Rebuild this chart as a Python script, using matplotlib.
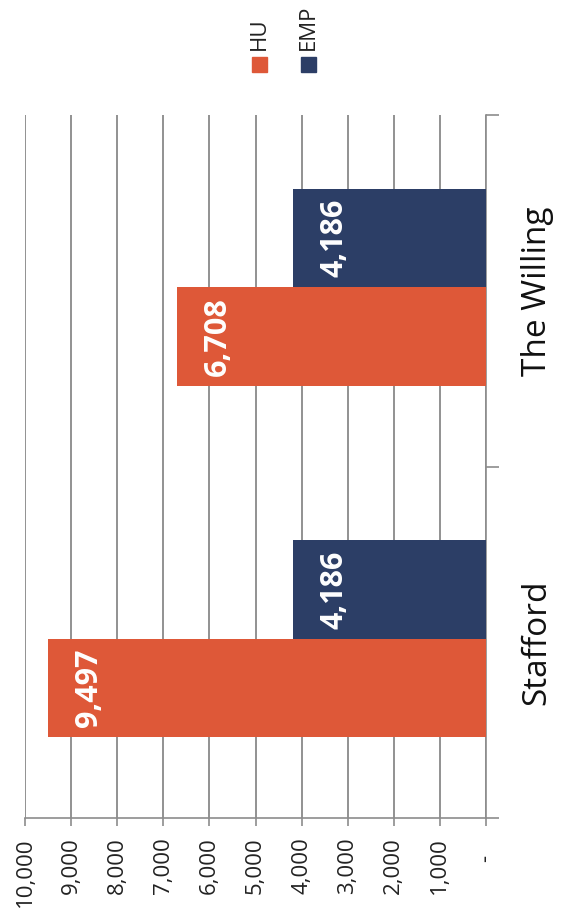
import matplotlib.pyplot as plt
import numpy as np
from matplotlib.ticker import FuncFormatter, MultipleLocator
from matplotlib.patches import Rectangle

plt.rcParams['font.family'] = ['Open Sans', 'DejaVu Sans']

# data
categories = ['Stafford', 'The Willing']
series = ['HU', 'EMP']
hu = [9497, 6708]
emp = [4186, 4186]
colors = {'HU': '#DE5838', 'EMP': '#2C3E66'}

W, H = 571, 922
fig = plt.figure(figsize=(W / 100, H / 100), dpi=100)
ax = fig.add_axes([25 / W, 1 - 818 / H, (486 - 25) / W, (818 - 115) / H])

pos = np.arange(len(categories))
bh = 0.28
shift = 0.01  # groups sit a touch above the category centre
ax.barh(pos - bh / 2 + shift, hu, height=bh, color=colors['HU'], zorder=3)
ax.barh(pos + bh / 2 + shift, emp, height=bh, color=colors['EMP'], zorder=3)

# value labels, rotated like the rest of the chart
for vals, off in ((hu, -bh / 2), (emp, bh / 2)):
    for p, v in zip(pos, vals):
        ax.annotate(f'{v:,}', xy=(v, p + off + shift), xytext=(26, 0),
                    textcoords='offset pixels', rotation=90,
                    ha='left', va='center', color='white',
                    fontsize=22, fontweight='bold', zorder=4)

ax.set_xlim(10000, 0)
ax.set_ylim(-0.5, len(categories) - 0.5)

ax.xaxis.set_major_locator(MultipleLocator(1000))
ax.xaxis.set_major_formatter(FuncFormatter(lambda x, _: '-   ' if x == 0 else f'{x:,.0f}'))
ax.tick_params(axis='x', direction='out', length=6, width=1.2, color='#8c8c8c',
               pad=8, labelsize=16, labelrotation=90, labelcolor='#222222')
ax.grid(axis='x', color='#7f7f7f', linewidth=1.2, zorder=0)

# category axis on the right
ax.yaxis.tick_right()
ax.set_yticks(np.arange(-0.5, len(categories), 1.0))
ax.set_yticklabels([])
ax.set_yticks(pos, minor=True)
ax.set_yticklabels(categories, minor=True, rotation=90, va='center')
ax.tick_params(axis='y', which='major', direction='out', length=9, width=1.2,
               color='#8c8c8c', right=True, left=False)
ax.tick_params(axis='y', which='minor', length=0, pad=25, labelsize=24,
               labelcolor='#111111', right=True, left=False)

for s in ('top', 'left'):
    ax.spines[s].set_visible(False)
for s in ('right', 'bottom'):
    ax.spines[s].set_color('#8c8c8c')
    ax.spines[s].set_linewidth(1.2)

# legend, drawn rotated
for name, cx in (('HU', 259.5), ('EMP', 308)):
    fig.patches.append(Rectangle(((cx - 7.5) / W, 1 - 72 / H), 15 / W, 15 / H,
                                 transform=fig.transFigure, color=colors[name]))
    fig.text(cx / W, 1 - 50 / H, name, rotation=90, ha='center', va='bottom',
             fontsize=16, color='#222222')

fig.savefig('out.png', dpi=100)
